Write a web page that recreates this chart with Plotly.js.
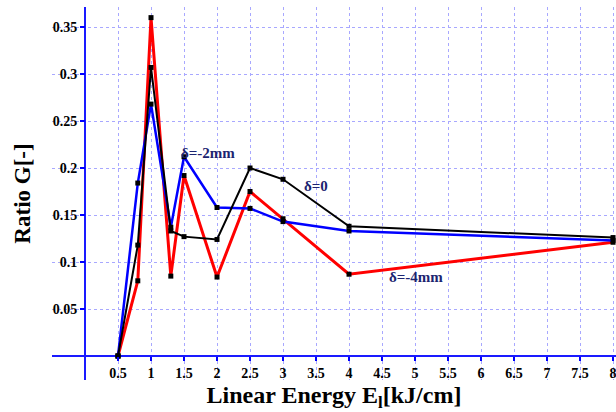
<!DOCTYPE html>
<html>
<head>
<meta charset="utf-8">
<script src="https://cdn.plot.ly/plotly-3.0.1.min.js"></script>
<style>html,body{margin:0;padding:0;background:#fff;}#chart{width:616px;height:412px;}</style>
</head>
<body>
<div id="chart"></div>
<script>
const energy = [0.5, 0.8, 1, 1.3, 1.5, 2, 2.5, 3, 4, 8];
const delta0 = [0, 0.118, 0.307, 0.133, 0.127, 0.124, 0.2, 0.188, 0.138, 0.126];
const deltaMinus4 = [0, 0.08, 0.36, 0.085, 0.192, 0.084, 0.175, 0.146, 0.087, 0.121];
const deltaMinus2 = [0, 0.184, 0.268, 0.137, 0.212, 0.158, 0.157, 0.143, 0.133, 0.123];
const xTicks = [0.5, 1, 1.5, 2, 2.5, 3, 3.5, 4, 4.5, 5, 5.5, 6, 6.5, 7, 7.5, 8];
const xTickText = ['0.5','1','1.5','2','2.5','3','3.5','4','4.5','5','5.5','6','6.5','7','7.5','8'];
const yTicks = [0.05, 0.1, 0.15, 0.2, 0.25, 0.3, 0.35];
const yTickText = ['0.05','0.1','0.15','0.2','0.25','0.3','0.35'];
const seriesLabels = ['δ=-2mm', 'δ=0', 'δ=-4mm'];

const serif = 'Liberation Serif, Times New Roman, serif';
const mk = {symbol: 'square', size: 5, color: '#000'};

const traces = [
  {x: energy, y: deltaMinus4, mode: 'lines+markers', name: seriesLabels[2],
   line: {color: '#ff0000', width: 3}, marker: mk},
  {x: energy, y: deltaMinus2, mode: 'lines+markers', name: seriesLabels[0],
   line: {color: '#0000ff', width: 2.5}, marker: mk},
  {x: energy, y: delta0, mode: 'lines+markers', name: seriesLabels[1],
   line: {color: '#000000', width: 2}, marker: mk}
];

const layout = {
  width: 616, height: 412,
  margin: {l: 52, r: 0, t: 7, b: 32},
  paper_bgcolor: '#fff', plot_bgcolor: '#fff',
  showlegend: false,
  font: {family: serif, color: '#000'},
  xaxis: {
    range: [-0.5, 8.045], anchor: 'free', position: 0.0643,
    tickvals: xTicks, ticktext: xTickText, ticklabeloverflow: 'allow',
    tickfont: {family: serif, size: 14, color: '#000', weight: 'bold'},
    ticks: 'outside', ticklen: 4, tickcolor: '#0000ff', tickwidth: 1.5,
    showgrid: true, gridcolor: '#a8a8ff', griddash: 'dot', gridwidth: 1,
    zeroline: true, zerolinecolor: '#1a1aff', zerolinewidth: 2.5,
    showline: false,
    title: {text: 'Linear Energy E<sub>l</sub>[kJ/cm]', standoff: 8,
            font: {family: serif, size: 24, color: '#000', weight: 'bold'}}
  },
  yaxis: {
    range: [-0.02553, 0.3713], anchor: 'free', position: 0.0585,
    tickvals: yTicks, ticktext: yTickText, ticklabeloverflow: 'allow',
    tickfont: {family: serif, size: 14, color: '#000', weight: 'bold'},
    ticks: 'outside', ticklen: 5, tickcolor: '#0000ff', tickwidth: 1.5,
    showgrid: true, gridcolor: '#a8a8ff', griddash: 'dot', gridwidth: 1,
    zeroline: true, zerolinecolor: '#1a1aff', zerolinewidth: 2.5,
    showline: false,
    title: {text: 'Ratio G[-]', standoff: 14,
            font: {family: serif, size: 23, color: '#000', weight: 'bold'}}
  },
  annotations: [
    {x: 1.86, y: 0.216, xref: 'x', yref: 'y', text: seriesLabels[0], showarrow: false,
     font: {family: serif, size: 15, color: '#1c2470', weight: 'bold'}},
    {x: 3.5, y: 0.181, xref: 'x', yref: 'y', text: seriesLabels[1], showarrow: false,
     font: {family: serif, size: 15, color: '#1c2470', weight: 'bold'}},
    {x: 5.02, y: 0.084, xref: 'x', yref: 'y', text: seriesLabels[2], showarrow: false,
     font: {family: serif, size: 15, color: '#1c2470', weight: 'bold'}}
  ]
};

Plotly.newPlot('chart', traces, layout, {displayModeBar: false, staticPlot: true});
</script>
</body>
</html>
